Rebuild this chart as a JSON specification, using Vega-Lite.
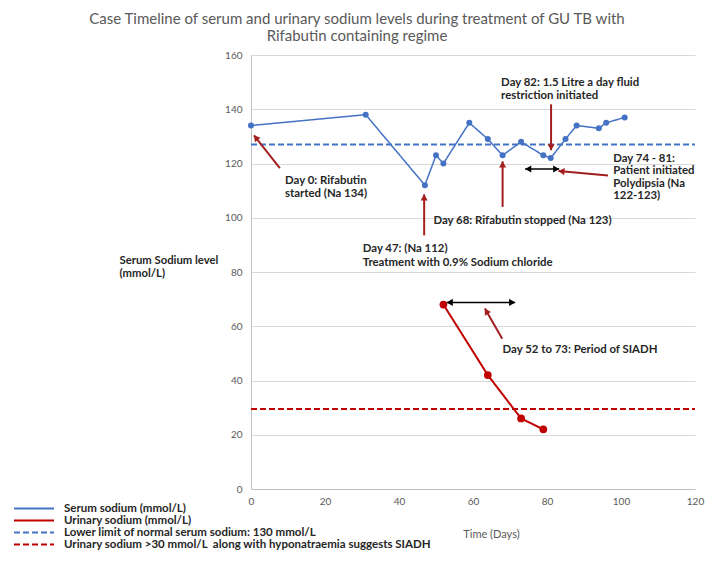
{
  "$schema": "https://vega.github.io/schema/vega-lite/v6.json",
  "width": 444,
  "height": 434,
  "autosize": "none",
  "padding": {"left": 251, "top": 55, "right": 19, "bottom": 72},
  "background": "white",
  "title": {
    "text": ["Case Timeline of serum and urinary sodium levels during treatment of GU TB with", "Rifabutin containing regime"],
    "anchor": "middle", "frame": "group", "dx": -116, "offset": 6,
    "font": "Lato", "fontSize": 15, "fontWeight": "normal", "color": "#595959", "lineHeight": 17
  },
  "config": {"view": {"stroke": null}, "font": "Lato"},
  "datasets": {
    "serum": [
      {"day": 0, "value": 134, "series": "Serum sodium (mmol/L)"},
      {"day": 31, "value": 138, "series": "Serum sodium (mmol/L)"},
      {"day": 47, "value": 112, "series": "Serum sodium (mmol/L)"},
      {"day": 50, "value": 123, "series": "Serum sodium (mmol/L)"},
      {"day": 52, "value": 120, "series": "Serum sodium (mmol/L)"},
      {"day": 59, "value": 135, "series": "Serum sodium (mmol/L)"},
      {"day": 64, "value": 129, "series": "Serum sodium (mmol/L)"},
      {"day": 68, "value": 123, "series": "Serum sodium (mmol/L)"},
      {"day": 73, "value": 128, "series": "Serum sodium (mmol/L)"},
      {"day": 79, "value": 123, "series": "Serum sodium (mmol/L)"},
      {"day": 81, "value": 122, "series": "Serum sodium (mmol/L)"},
      {"day": 85, "value": 129, "series": "Serum sodium (mmol/L)"},
      {"day": 88, "value": 134, "series": "Serum sodium (mmol/L)"},
      {"day": 94, "value": 133, "series": "Serum sodium (mmol/L)"},
      {"day": 96, "value": 135, "series": "Serum sodium (mmol/L)"},
      {"day": 101, "value": 137, "series": "Serum sodium (mmol/L)"}
    ],
    "urine": [
      {"day": 52, "value": 68, "series": "Urinary sodium (mmol/L)"},
      {"day": 64, "value": 42, "series": "Urinary sodium (mmol/L)"},
      {"day": 73, "value": 26, "series": "Urinary sodium (mmol/L)"},
      {"day": 79, "value": 22, "series": "Urinary sodium (mmol/L)"}
    ],
    "refs": [
      {"day": 0, "value": 127, "series": "Lower limit of normal serum sodium: 130 mmol/L"},
      {"day": 120, "value": 127, "series": "Lower limit of normal serum sodium: 130 mmol/L"},
      {"day": 0, "value": 29.5, "series": "Urinary sodium >30 mmol/L\u00a0 along with hyponatraemia suggests SIADH"},
      {"day": 120, "value": 29.5, "series": "Urinary sodium >30 mmol/L\u00a0 along with hyponatraemia suggests SIADH"}
    ],
    "arrows": [
      {"day": 7.8, "value": 118.3, "day2": 0.8, "value2": 130.4, "kind": "red"},
      {"day": 46.8, "value": 93.5, "day2": 46.8, "value2": 108.6, "kind": "red"},
      {"day": 68, "value": 104, "day2": 68, "value2": 120.8, "kind": "red"},
      {"day": 81.1, "value": 141.8, "day2": 81.1, "value2": 124.9, "kind": "red"},
      {"day": 96.5, "value": 115.6, "day2": 83.1, "value2": 117.2, "kind": "red"},
      {"day": 67.9, "value": 55.4, "day2": 63.2, "value2": 66.5, "kind": "red"},
      {"day": 74.1, "value": 118, "day2": 83.3, "value2": 118, "kind": "black"},
      {"day": 52.9, "value": 68.8, "day2": 71.4, "value2": 68.8, "kind": "black"}
    ],
    "notes": [
      {"day": 9.2, "value": 113.5, "text": "Day 0: Rifabutin"},
      {"day": 9.2, "value": 108.6, "text": "started (Na 134)"},
      {"day": 30.2, "value": 88.5, "text": "Day 47: (Na 112)"},
      {"day": 30.2, "value": 83.5, "text": "Treatment with 0.9% Sodium chloride"},
      {"day": 49.3, "value": 98.8, "text": "Day 68: Rifabutin stopped (Na 123)"},
      {"day": 67.6, "value": 149.8, "text": "Day 82: 1.5 Litre a day fluid"},
      {"day": 67.6, "value": 145, "text": "restriction initiated"},
      {"day": 97.9, "value": 121.7, "text": "Day 74 - 81:"},
      {"day": 97.9, "value": 117.1, "text": "Patient initiated"},
      {"day": 97.9, "value": 112.4, "text": "Polydipsia (Na"},
      {"day": 97.9, "value": 107.9, "text": "122-123)"},
      {"day": 68, "value": 51.3, "text": "Day 52 to 73: Period of SIADH"}
    ]
  },
  "encoding": {
    "x": {
      "field": "day", "type": "quantitative",
      "scale": {"domain": [0, 120], "nice": false},
      "axis": {
        "values": [0, 20, 40, 60, 80, 100, 120], "grid": false, "ticks": false,
        "domainColor": "#bfbfbf", "labelColor": "#595959", "labelFontSize": 10, "labelFont": "Lato",
        "labelPadding": 7, "labelFlush": false,
        "title": "Time (Days)", "titleFontWeight": "normal", "titleColor": "#595959", "titleFontSize": 11, "titleFont": "Lato",
        "titleX": 240, "titleY": 45, "titleAlign": "center", "titleBaseline": "middle"
      }
    },
    "y": {
      "field": "value", "type": "quantitative",
      "scale": {"domain": [0, 160], "nice": false},
      "axis": {
        "values": [0, 20, 40, 60, 80, 100, 120, 140, 160], "grid": true, "gridColor": "#d9d9d9", "ticks": false,
        "domainColor": "#bfbfbf", "labelColor": "#595959", "labelFontSize": 10, "labelFont": "Lato",
        "labelPadding": 9, "labelFlush": false,
        "title": ["Serum Sodium level", "(mmol/L)"], "titleAngle": 0, "titleAlign": "left",
        "titleX": -132, "titleY": 205, "titleBaseline": "middle", "titleFontWeight": "bold",
        "titleFontSize": 11.3, "titleColor": "#262626", "titleFont": "Lato", "titleLineHeight": 13
      }
    }
  },
  "layer": [
    {
      "data": {"name": "refs"},
      "mark": {"type": "line", "strokeWidth": 2},
      "encoding": {
        "detail": {"field": "series"},
        "color": {
          "field": "series", "type": "nominal",
          "scale": {
            "domain": ["Serum sodium (mmol/L)", "Urinary sodium (mmol/L)", "Lower limit of normal serum sodium: 130 mmol/L", "Urinary sodium >30 mmol/L\u00a0 along with hyponatraemia suggests SIADH"],
            "range": ["#4472C4", "#C00000", "#4472C4", "#C00000"]
          },
          "legend": {
            "orient": "none", "legendX": -223, "legendY": 447.5, "title": null,
            "symbolType": "M-4,0H4", "symbolSize": 100, "symbolStrokeWidth": 2,
            "labelFont": "Lato", "labelFontSize": 11.5, "labelFontWeight": "bold", "labelColor": "#262626",
            "labelLimit": 600, "labelOffset": 24, "rowPadding": 0
          }
        },
        "strokeDash": {
          "field": "series", "type": "nominal",
          "scale": {
            "domain": ["Serum sodium (mmol/L)", "Urinary sodium (mmol/L)", "Lower limit of normal serum sodium: 130 mmol/L", "Urinary sodium >30 mmol/L\u00a0 along with hyponatraemia suggests SIADH"],
            "range": [[1, 0], [1, 0], [6, 3], [6, 3]]
          },
          "legend": {
            "orient": "none", "legendX": -223, "legendY": 447.5, "title": null,
            "symbolType": "M-4,0H4", "symbolSize": 100, "symbolStrokeWidth": 2,
            "labelFont": "Lato", "labelFontSize": 11.5, "labelFontWeight": "bold", "labelColor": "#262626",
            "labelLimit": 600, "labelOffset": 24, "rowPadding": 0
          }
        }
      }
    },
    {
      "data": {"name": "serum"},
      "mark": {"type": "line", "strokeWidth": 1.5},
      "encoding": {
        "color": {"field": "series", "type": "nominal"},
        "strokeDash": {"field": "series", "type": "nominal"}
      }
    },
    {
      "data": {"name": "urine"},
      "mark": {"type": "line", "strokeWidth": 2},
      "encoding": {
        "color": {"field": "series", "type": "nominal"},
        "strokeDash": {"field": "series", "type": "nominal"}
      }
    },
    {
      "data": {"name": "serum"},
      "mark": {"type": "point", "filled": true, "opacity": 1, "size": 36, "color": "#4472C4"},
      "encoding": {}
    },
    {
      "data": {"name": "urine"},
      "mark": {"type": "point", "filled": true, "opacity": 1, "size": 60, "color": "#C00000"},
      "encoding": {}
    },
    {
      "data": {"name": "arrows"},
      "transform": [{"filter": "datum.kind == 'red'"}],
      "mark": {"type": "rule", "color": "#A31F1F", "strokeWidth": 2},
      "encoding": {"x2": {"field": "day2"}, "y2": {"field": "value2"}}
    },
    {
      "data": {"name": "arrows"},
      "transform": [{"filter": "datum.kind == 'black'"}],
      "mark": {"type": "rule", "color": "#000000", "strokeWidth": 1.5},
      "encoding": {"x2": {"field": "day2"}, "y2": {"field": "value2"}}
    },
    {
      "data": {"name": "arrows"},
      "transform": [
        {"calculate": "atan2((datum.day2-datum.day)*3.7, (datum.value2-datum.value)*2.711)*180/PI", "as": "ang"},
        {"calculate": "sqrt(pow((datum.day2-datum.day)*3.7,2)+pow((datum.value2-datum.value)*2.711,2))", "as": "len"},
        {"calculate": "datum.day2 - (datum.day2-datum.day)*3.7/datum.len*3/3.7", "as": "hx"},
        {"calculate": "datum.value2 - (datum.value2-datum.value)*2.711/datum.len*3/2.711", "as": "hy"}
      ],
      "mark": {"type": "point", "shape": "triangle-up", "filled": true, "opacity": 1, "size": 50},
      "encoding": {
        "x": {"field": "hx", "type": "quantitative"},
        "y": {"field": "hy", "type": "quantitative"},
        "angle": {"field": "ang", "type": "quantitative", "scale": null},
        "color": {"condition": {"test": "datum.kind == 'red'", "value": "#A31F1F"}, "value": "#000000"}
      }
    },
    {
      "data": {"name": "arrows"},
      "transform": [
        {"filter": "datum.kind == 'black'"},
        {"calculate": "atan2((datum.day-datum.day2)*3.7, (datum.value-datum.value2)*2.711)*180/PI", "as": "ang"},
        {"calculate": "sqrt(pow((datum.day2-datum.day)*3.7,2)+pow((datum.value2-datum.value)*2.711,2))", "as": "len"},
        {"calculate": "datum.day - (datum.day-datum.day2)*3.7/datum.len*3/3.7", "as": "hx"},
        {"calculate": "datum.value - (datum.value-datum.value2)*2.711/datum.len*3/2.711", "as": "hy"}
      ],
      "mark": {"type": "point", "shape": "triangle-up", "filled": true, "opacity": 1, "size": 50, "color": "#000000"},
      "encoding": {
        "x": {"field": "hx", "type": "quantitative"},
        "y": {"field": "hy", "type": "quantitative"},
        "angle": {"field": "ang", "type": "quantitative", "scale": null}
      }
    },
    {
      "data": {"name": "notes"},
      "mark": {"type": "text", "align": "left", "baseline": "middle", "font": "Lato", "fontSize": 11.4, "fontWeight": "bold", "color": "#262626"},
      "encoding": {"text": {"field": "text"}}
    }
  ]
}
